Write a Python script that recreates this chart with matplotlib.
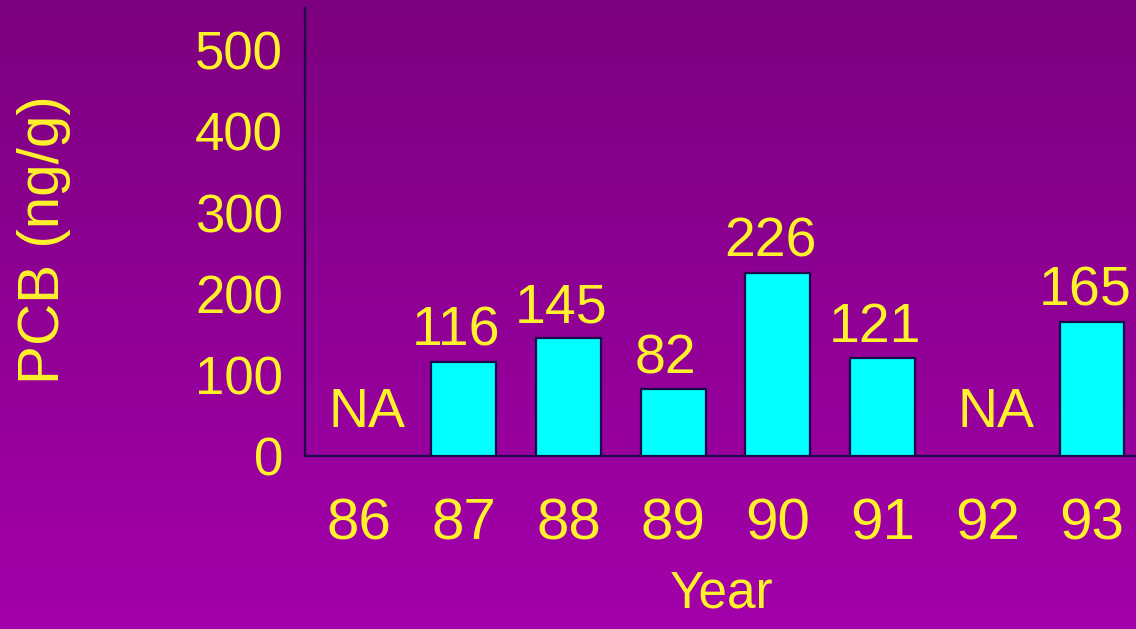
import numpy as np
import matplotlib
matplotlib.use("Agg")
import matplotlib.pyplot as plt
from matplotlib.colors import LinearSegmentedColormap

years = [86, 87, 88, 89, 90, 91, 92, 93]
year_labels = ["86", "87", "88", "89", "90", "91", "92", "93"]
pcb = [None, 116, 145, 82, 226, 121, None, 165]   # None = NA
yticks = [0, 100, 200, 300, 400, 500]

font = "Liberation Sans"
yellow = "#fff22a"
navy = "#180c48"

fig = plt.figure(figsize=(11.36, 6.29), dpi=100)

# purple gradient background
bg = fig.add_axes([0, 0, 1, 1])
cmap = LinearSegmentedColormap.from_list("purp", ["#7d007f", "#a300ab"])
bg.imshow(np.linspace(0, 1, 256).reshape(-1, 1), aspect="auto", cmap=cmap,
          extent=[0, 1, 0, 1], origin="upper")
bg.axis("off")

ax = fig.add_axes([305/1136, 1-456/629, 1-305/1136, (456-8)/629])
ax.set_facecolor("none")

xs = [y for y, v in zip(years, pcb) if v is not None]
vals = [v for v in pcb if v is not None]
ax.bar(xs, vals, width=0.62, color="#00ffff", edgecolor=navy, linewidth=1.6, zorder=3)

for y, v in zip(years, pcb):
    if v is None:
        ax.text(y + 0.08, 36, "NA", ha="center", va="baseline", color=yellow,
                fontsize=40, family=font)
    else:
        ax.text(y - 0.07, v + 20, str(v), ha="center", va="baseline", color=yellow,
                fontsize=40, family=font)

ax.set_xlim(86 - 0.516, 93.42)
ax.set_ylim(0, 552)
ax.set_xticks(years)
ax.set_xticklabels(year_labels, family=font, fontsize=42, color=yellow)
ax.set_yticks(yticks)
ax.set_yticklabels([str(t) for t in yticks], family=font, fontsize=38, color=yellow)
ax.tick_params(axis="x", length=0, pad=30)
ax.tick_params(axis="y", length=0, pad=16)

for s in ["top", "right"]:
    ax.spines[s].set_visible(False)
for s in ["left", "bottom"]:
    ax.spines[s].set_color(navy)
    ax.spines[s].set_linewidth(1.6)

fig.text(722/1136, 1-570/629, "Year", ha="center", va="top", color=yellow,
         fontsize=37, family=font)
fig.text(44/1136, 1-240/629, "PCB (ng/g)", ha="center", va="center", rotation=90,
         color=yellow, fontsize=42, family=font)

plt.savefig("out.png", dpi=100)
